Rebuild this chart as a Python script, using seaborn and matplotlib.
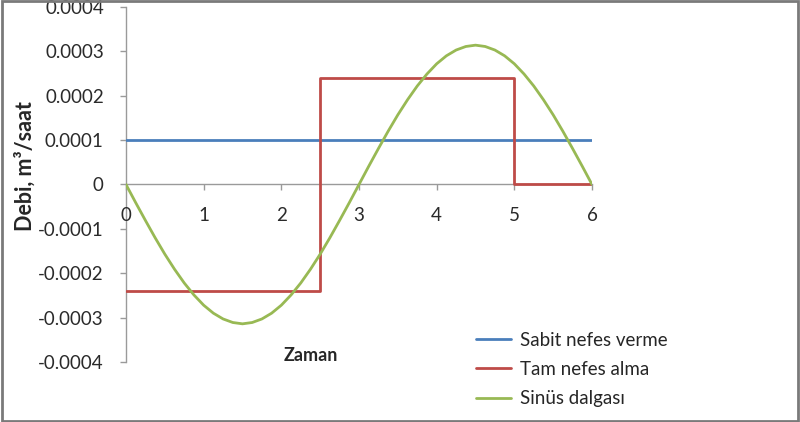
import matplotlib.pyplot as plt
import matplotlib.patches as mpatches
import pandas as pd
import seaborn as sns

sns.set_style('white')
plt.rcParams['font.family'] = ['Lato', 'DejaVu Sans']

# Sabit nefes verme (constant)
sabit_t = [0, 6]
sabit_q = [0.0001, 0.0001]

# Tam nefes alma (square step)
tam_t = [0, 2.5, 2.5, 5, 5, 6]
tam_q = [-0.00024, -0.00024, 0.00024, 0.00024, 0.0, 0.0]

# Sinus dalgasi, every 0.125
sin_t = [0, 0.125, 0.25, 0.375, 0.5, 0.625, 0.75, 0.875, 1.0, 1.125, 1.25, 1.375,
         1.5, 1.625, 1.75, 1.875, 2.0, 2.125, 2.25, 2.375, 2.5, 2.625, 2.75, 2.875,
         3.0, 3.125, 3.25, 3.375, 3.5, 3.625, 3.75, 3.875, 4.0, 4.125, 4.25, 4.375,
         4.5, 4.625, 4.75, 4.875, 5.0, 5.125, 5.25, 5.375, 5.5, 5.625, 5.75, 5.875, 6.0]
sin_q = [0.0, -0.000041, -0.000081, -0.000120, -0.000157, -0.000191, -0.000222,
         -0.000249, -0.000272, -0.000290, -0.000303, -0.000311, -0.000314,
         -0.000311, -0.000303, -0.000290, -0.000272, -0.000249, -0.000222,
         -0.000191, -0.000157, -0.000120, -0.000081, -0.000041, 0.0,
         0.000041, 0.000081, 0.000120, 0.000157, 0.000191, 0.000222,
         0.000249, 0.000272, 0.000290, 0.000303, 0.000311, 0.000314,
         0.000311, 0.000303, 0.000290, 0.000272, 0.000249, 0.000222,
         0.000191, 0.000157, 0.000120, 0.000081, 0.000041, 0.0]

y_ticks = [0.0004, 0.0003, 0.0002, 0.0001, 0, -0.0001, -0.0002, -0.0003, -0.0004]
y_labels = ['0.0004', '0.0003', '0.0002', '0.0001', '0',
            '-0.0001', '-0.0002', '-0.0003', '-0.0004']
x_ticks = [0, 1, 2, 3, 4, 5, 6]

series = [
    ('Sabit nefes verme', sabit_t, sabit_q, '#4a7ebb'),
    ('Tam nefes alma', tam_t, tam_q, '#be4b48'),
    ('Sinüs dalgası', sin_t, sin_q, '#98b954'),
]

fig = plt.figure(figsize=(8, 4.22), dpi=100)
ax = fig.add_axes([0.1575, 0.1422, 0.5825, 0.8412])

for name, t, q, col in series:
    df = pd.DataFrame({'t': t, 'q': q})
    sns.lineplot(data=df, x='t', y='q', sort=False, estimator=None,
                 color=col, linewidth=2.0, label=name, ax=ax)

ax.set_xlim(0, 6)
ax.set_ylim(-0.0004, 0.0004)

ax.spines['top'].set_visible(False)
ax.spines['right'].set_visible(False)
ax.spines['bottom'].set_position(('data', 0))
for s in ['left', 'bottom']:
    ax.spines[s].set_color('#9a9a9a')
    ax.spines[s].set_linewidth(1.0)
    ax.spines[s].set_zorder(0)

ax.set_yticks(y_ticks)
ax.set_yticklabels(y_labels)
ax.set_xticks(x_ticks)
ax.set_xticklabels([str(v) for v in x_ticks])
ax.tick_params(axis='y', direction='out', length=4, width=1, color='#9a9a9a',
               labelsize=13.5, labelcolor='#2a2a2a', pad=12, left=True)
ax.tick_params(axis='x', direction='out', length=4, width=1, color='#9a9a9a',
               labelsize=13.5, labelcolor='#2a2a2a', pad=12, bottom=True)

ax.set_xlabel('')
ax.set_ylabel('')
fig.text(0.031, 0.607, 'Debi, m³/saat', rotation=90, fontsize=15.5,
         fontweight='bold', ha='center', va='center')
fig.text(0.389, 0.158, 'Zaman', fontsize=13, fontweight='bold',
         ha='center', va='center')

ax.get_legend().remove()
handles, labels = ax.get_legend_handles_labels()
fig.legend(handles, labels, loc='upper left', bbox_to_anchor=(0.585, 0.232),
           frameon=False, fontsize=13.5, handlelength=1.9, handletextpad=0.45,
           labelspacing=0.66, borderaxespad=0)

fig.patches.append(mpatches.Rectangle((0.002, 0.003), 0.995, 0.994,
                                      transform=fig.transFigure, fill=False,
                                      edgecolor='#7a7a7a', linewidth=2))

fig.savefig('out.png', dpi=100)
